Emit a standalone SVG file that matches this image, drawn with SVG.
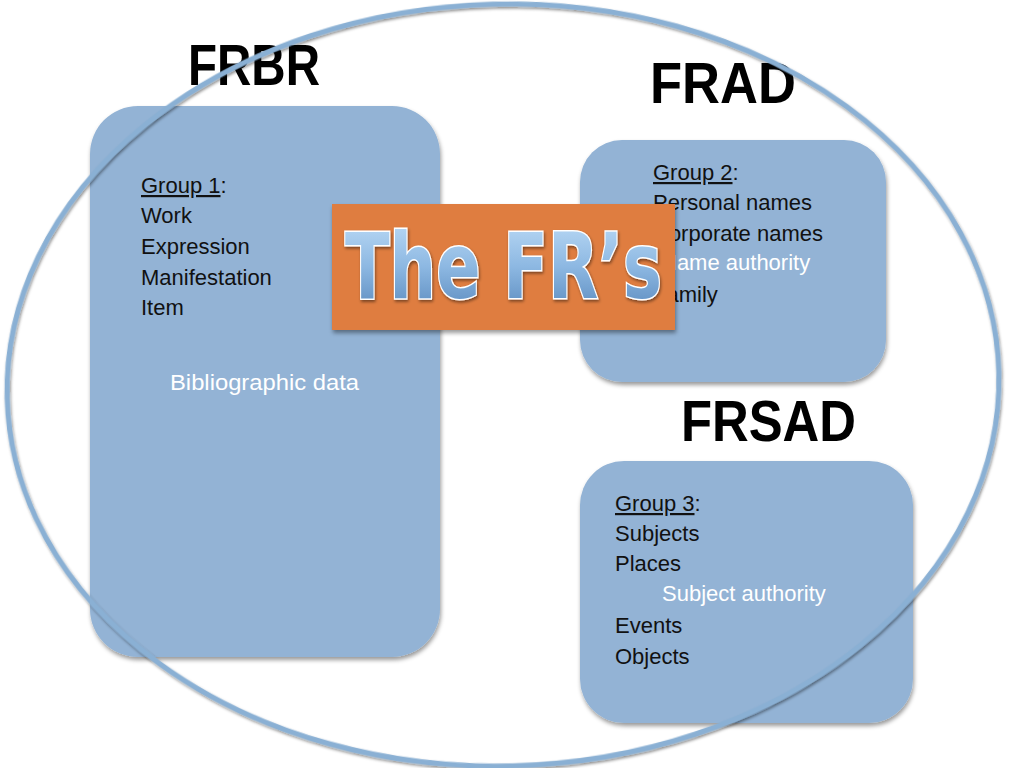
<svg xmlns="http://www.w3.org/2000/svg" width="1024" height="768" viewBox="0 0 1024 768">
<defs>
<filter id="sh" x="-10%" y="-10%" width="120%" height="120%">
<feDropShadow dx="1" dy="3" stdDeviation="2" flood-color="#000" flood-opacity="0.4"/>
</filter>
<filter id="tsh" x="-10%" y="-10%" width="120%" height="130%">
<feDropShadow dx="1" dy="2" stdDeviation="1.5" flood-color="#000" flood-opacity="0.45"/>
</filter>
<linearGradient id="tg" x1="0" y1="0" x2="0" y2="1">
<stop offset="0" stop-color="#BFDDF7"/>
<stop offset="0.5" stop-color="#8DB8E2"/>
<stop offset="1" stop-color="#5485BA"/>
</linearGradient>
<style>
.box{fill:#93B3D5;filter:url(#sh);}
.title{font-family:"Liberation Sans",Arial,sans-serif;font-weight:bold;font-size:57px;fill:#000;}
.t{font-family:"Liberation Sans",Arial,sans-serif;font-size:22px;fill:#111;}
.w{font-family:"Liberation Sans",Arial,sans-serif;font-size:22px;fill:#fff;}
.u{text-decoration:underline;}
</style>
</defs>
<rect width="1024" height="768" fill="#fff"/>

<g id="title-frbr"><text class="title" x="188" y="85" textLength="132" lengthAdjust="spacingAndGlyphs">FRBR</text></g>
<g id="title-frad"><text class="title" x="650" y="103" textLength="146" lengthAdjust="spacingAndGlyphs">FRAD</text></g>
<g id="title-frsad"><text class="title" x="681" y="441" textLength="175" lengthAdjust="spacingAndGlyphs">FRSAD</text></g>

<g id="frbr">
<rect class="box" x="90" y="106" width="350" height="551" rx="48" ry="48"/>
<text class="t" x="141" y="193"><tspan class="u">Group 1</tspan>:</text>
<text class="t" x="141" y="223">Work</text>
<text class="t" x="141" y="254">Expression</text>
<text class="t" x="141" y="285">Manifestation</text>
<text class="t" x="141" y="315">Item</text>
<text class="w" x="170" y="390" textLength="189" lengthAdjust="spacingAndGlyphs">Bibliographic data</text>
</g>

<g id="frad">
<rect class="box" x="580" y="140" width="306" height="242" rx="42" ry="42"/>
<text class="t" x="653" y="180"><tspan class="u">Group 2</tspan>:</text>
<text class="t" x="653" y="210">Personal names</text>
<text class="t" x="653" y="241">Corporate names</text>
<text class="w" x="661" y="270">Name authority</text>
<text class="t" x="653" y="302">Family</text>
</g>

<g id="frsad">
<rect class="box" x="580" y="461" width="333" height="262" rx="44" ry="44"/>
<text class="t" x="615" y="511"><tspan class="u">Group 3</tspan>:</text>
<text class="t" x="615" y="541">Subjects</text>
<text class="t" x="615" y="571">Places</text>
<text class="w" x="662" y="601">Subject authority</text>
<text class="t" x="615" y="633">Events</text>
<text class="t" x="615" y="664">Objects</text>
</g>

<g id="connectors">
<ellipse cx="503" cy="385" rx="496" ry="381" transform="rotate(-1.5 503 385)" fill="none" stroke="#8AB0D4" stroke-width="5" filter="url(#tsh)"/>
</g>

<g id="the-frs">
<rect x="332" y="204" width="343" height="126" fill="#DF7D41" filter="url(#sh)"/>
<text x="345" y="298" textLength="317" lengthAdjust="spacingAndGlyphs" font-family="'DejaVu Sans',Verdana,sans-serif" font-weight="bold" font-size="90" fill="url(#tg)" stroke="#fff" stroke-width="3" paint-order="stroke" filter="url(#tsh)">The FR’s</text>
</g>
</svg>
